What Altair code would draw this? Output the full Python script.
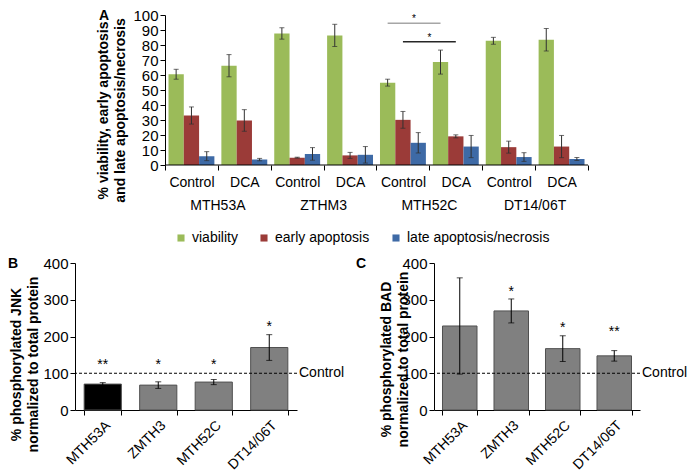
import altair as alt
import pandas as pd

FONT = "Liberation Sans"

# ---------------- Panel A data ----------------
cell_lines_a = ["MTH53A", "ZTHM3", "MTH52C", "DT14/06T"]
treatments = ["Control", "DCA"]
series_names = ["viability", "early apoptosis", "late apoptosis/necrosis"]
series_colors = ["#9BBB59", "#9B3B38", "#3E6AA6"]

# order: MTH53A Control, MTH53A DCA, ZTHM3 Control, ZTHM3 DCA, MTH52C Control, MTH52C DCA, DT14/06T Control, DT14/06T DCA
viability = [60.5, 66.2, 87.7, 86.4, 54.9, 68.6, 82.8, 83.5]
viability_err = [3.3, 7.4, 3.8, 7.4, 2.3, 8.0, 2.3, 7.5]
early = [33.0, 29.7, 4.9, 6.4, 30.1, 19.1, 11.9, 12.3]
early_err = [5.7, 7.2, 0.3, 2.0, 5.6, 1.0, 4.0, 7.4]
late = [5.9, 3.6, 7.4, 6.8, 14.8, 12.3, 5.3, 4.0]
late_err = [3.0, 0.8, 4.2, 5.5, 6.8, 7.4, 2.9, 1.0]

# significance brackets
sig_series = [0, 1]
sig_from = [4, 4]
sig_to = [5, 5]
sig_level = [94.5, 82.2]
sig_star_level = [98.6, 86.3]
sig_colors = ["#A6A6A6", "#262626"]

# ---------------- Panel B / C data ----------------
cell_lines_bc = ["MTH53A", "ZMTH3", "MTH52C", "DT14/06T"]
jnk = [70.5, 67.7, 76.0, 170.0]
jnk_err = [4.0, 9.0, 7.0, 35.0]
jnk_stars = ["**", "*", "*", "*"]
jnk_star_y = [131, 131, 130, 233]
jnk_fill = ["#000000", "#808080", "#808080", "#808080"]

bad = [228.6, 269.6, 167.0, 147.3]
bad_err = [131.0, 32.6, 35.0, 14.3]
bad_stars = ["", "*", "*", "**"]
bad_star_y = [0, 328, 232, 221]
bad_fill = ["#808080", "#808080", "#808080", "#808080"]

control_level = 100
control_label = "Control"

# ---------------- Build panel A ----------------
n_groups = len(cell_lines_a) * len(treatments)
pad = 0.066
bw = (1 - 2 * pad) / 3
vals = [viability, early, late]
errs = [viability_err, early_err, late_err]
rows = []
for g in range(n_groups):
    for s in range(3):
        x0 = g + pad + s * bw
        rows.append({
            "series": series_names[s], "x0": x0, "x1": x0 + bw, "xc": x0 + bw / 2,
            "value": vals[s][g], "lo": vals[s][g] - errs[s][g], "hi": vals[s][g] + errs[s][g],
        })
dfA = pd.DataFrame(rows)

dfGroups = pd.DataFrame({"x": [2 * i + 1 for i in range(len(cell_lines_a))], "name": cell_lines_a})
dfBase = pd.DataFrame({"a": [0], "b": [n_groups], "y": [0]})

sig_rows = []
for k in range(len(sig_series)):
    xa = sig_from[k] + pad + sig_series[k] * bw + bw / 2
    xb = sig_to[k] + pad + sig_series[k] * bw + bw / 2
    sig_rows.append({"xa": xa, "xb": xb, "xm": (xa + xb) / 2, "y": sig_level[k],
                     "ys": sig_star_level[k], "c": sig_colors[k], "star": "*"})
dfSig = pd.DataFrame(sig_rows)

# panel A shares its left origin with panel B; its own y axis is shifted inward
WA_inner, SHIFT, HA = 423, 90, 150
group_px = WA_inner / n_groups
WA = WA_inner + SHIFT
xA = alt.Scale(domain=[-SHIFT / group_px, n_groups], nice=False, zero=False)
yA = alt.Scale(domain=[0, 100], nice=False)

label_expr = "datum.value >= 8 ? '' : (datum.value % 2 == 0 ? 'Control' : 'DCA')"
axXA = alt.Axis(values=list(range(n_groups + 1)), labelExpr=label_expr, title=None, domain=False,
                labelOffset=group_px / 2, labelFlush=False, labelOverlap=False,
                tickSize=5, labelPadding=5, labelFontSize=14, grid=False)
axYA = alt.Axis(values=list(range(0, 101, 10)), tickCount=11, tickSize=5, labelPadding=2,
                labelFontSize=15, grid=False, labelOverlap=False, offset=-SHIFT,
                title=["% viability, early apoptosis", "and late apoptosis/necrosis"],
                titleFontWeight="bold", titleFontSize=14, titleLineHeight=17,
                titlePadding=5, titleY=95)

barsA = alt.Chart(dfA).mark_rect().encode(
    x=alt.X("x0:Q", scale=xA, axis=axXA),
    x2="x1:Q",
    y=alt.Y("value:Q", scale=yA, axis=axYA),
    y2=alt.datum(0),
    color=alt.Color("series:N", scale=alt.Scale(domain=series_names, range=series_colors),
                    legend=alt.Legend(orient="none", legendX=99, legendY=216, direction="horizontal",
                                      padding=0, title=None, symbolType="square", symbolSize=50,
                                      symbolStrokeWidth=0, labelFontSize=14, labelOffset=4,
                                      columnPadding=19, labelFont=FONT, labelColor="black")),
)

baseA = alt.Chart(dfBase).mark_rule(color="black", strokeWidth=1).encode(
    x=alt.X("a:Q", scale=xA, axis=axXA), x2="b:Q", y=alt.Y("y:Q", scale=yA, axis=axYA))

errA = alt.Chart(dfA).mark_rule(color="#303030", strokeWidth=1).encode(
    x=alt.X("xc:Q", scale=xA, axis=axXA), y=alt.Y("lo:Q", scale=yA, axis=axYA), y2="hi:Q")
capA_hi = alt.Chart(dfA).mark_tick(orient="horizontal", size=5, thickness=1, color="#303030").encode(
    x=alt.X("xc:Q", scale=xA, axis=axXA), y=alt.Y("hi:Q", scale=yA, axis=axYA))
capA_lo = alt.Chart(dfA).mark_tick(orient="horizontal", size=5, thickness=1, color="#303030").encode(
    x=alt.X("xc:Q", scale=xA, axis=axXA), y=alt.Y("lo:Q", scale=yA, axis=axYA))

groupsA = alt.Chart(dfGroups).mark_text(fontSize=14, baseline="middle", fill="black").encode(
    x=alt.X("x:Q", scale=xA, axis=axXA), y=alt.value(HA + 41), text="name:N")

sigA = alt.Chart(dfSig).mark_rule(strokeWidth=1.4).encode(
    x=alt.X("xa:Q", scale=xA, axis=axXA), x2="xb:Q", y=alt.Y("y:Q", scale=yA, axis=axYA),
    stroke=alt.Stroke("c:N", scale=None, legend=None))
starsA = alt.Chart(dfSig).mark_text(fontSize=10, baseline="middle", dy=2, fill="black").encode(
    x=alt.X("xm:Q", scale=xA, axis=axXA), y=alt.Y("ys:Q", scale=yA, axis=axYA), text="star:N")

letterA = alt.Chart(pd.DataFrame({"t": ["A"]})).mark_text(
    fontSize=14, fontWeight="bold", align="left", baseline="top", fill="black").encode(
    x=alt.value(SHIFT - 66), y=alt.value(-6), text="t:N")

panelA = alt.layer(barsA, baseA, errA, capA_hi, capA_lo, groupsA, sigA, starsA, letterA).properties(
    width=WA, height=HA)


# ---------------- Panels B, C ----------------
def make_panel(values, errors, stars, star_y, fills, title_lines, letter, width, height,
               title_pad, title_y, letter_x):
    df = pd.DataFrame({
        "cell": cell_lines_bc, "value": values,
        "lo": [v - e for v, e in zip(values, errors)],
        "hi": [v + e for v, e in zip(values, errors)],
        "star": stars, "star_y": star_y, "fill": fills,
    })
    xs = alt.Scale(domain=cell_lines_bc, paddingInner=0.33, paddingOuter=0.165)
    ys = alt.Scale(domain=[0, 400], nice=False)
    ax_x = alt.Axis(labelAngle=-45, tickBand="extent", tickSize=5, labelPadding=3, title=None,
                    labelFontSize=14, grid=False)
    ax_y = alt.Axis(values=[0, 100, 200, 300, 400], tickCount=5, tickSize=5, labelPadding=2,
                    labelFontSize=15, grid=False, labelOverlap=False, title=title_lines,
                    titleFontWeight="bold", titleFontSize=14, titleLineHeight=17,
                    titlePadding=title_pad, titleY=title_y)
    X = alt.X("cell:N", scale=xs, sort=cell_lines_bc, axis=ax_x)
    bars = alt.Chart(df).mark_bar(stroke="#505050", strokeWidth=1).encode(
        x=X, y=alt.Y("value:Q", scale=ys, axis=ax_y),
        fill=alt.Fill("fill:N", scale=None, legend=None),
    )
    err = alt.Chart(df).mark_rule(color="black", strokeWidth=1).encode(
        x=X, y=alt.Y("lo:Q", scale=ys, axis=ax_y), y2="hi:Q")
    cap_hi = alt.Chart(df).mark_tick(orient="horizontal", size=6, thickness=1, color="black").encode(
        x=X, y=alt.Y("hi:Q", scale=ys, axis=ax_y))
    cap_lo = alt.Chart(df).mark_tick(orient="horizontal", size=6, thickness=1, color="black").encode(
        x=X, y=alt.Y("lo:Q", scale=ys, axis=ax_y))
    st = alt.Chart(df).transform_filter("datum.star != ''").mark_text(
        fontSize=14, baseline="middle", dy=3, fill="black").encode(
        x=X, y=alt.Y("star_y:Q", scale=ys, axis=ax_y), text="star:N")
    ref = alt.Chart(pd.DataFrame({"y": [control_level], "t": [control_label]}))
    line = ref.mark_rule(color="black", strokeDash=[3, 2], strokeWidth=1).encode(
        y=alt.Y("y:Q", scale=ys, axis=ax_y))
    lab = ref.mark_text(align="left", baseline="middle", fontSize=14, fill="black").encode(
        x=alt.value(width + 2), y=alt.Y("y:Q", scale=ys, axis=ax_y), text="t:N")
    let = alt.Chart(pd.DataFrame({"t": [letter]})).mark_text(
        fontSize=14, fontWeight="bold", align="left", baseline="top", fill="black").encode(
        x=alt.value(letter_x), y=alt.value(-6), text="t:N")
    return alt.layer(bars, err, cap_hi, cap_lo, st, line, lab, let).properties(width=width, height=height)


panelB = make_panel(jnk, jnk_err, jnk_stars, jnk_star_y, jnk_fill,
                    ["% phosphorylated JNK", "normalized to total protein"], "B",
                    222, 147, 2, 101, -67)
panelC = make_panel(bad, bad_err, bad_stars, bad_star_y, bad_fill,
                    ["% phosphorylated BAD", "normalized to total protein"], "C",
                    206, 147, -9, 96, -78)

bottom_row = alt.hconcat(panelB, panelC, spacing=11).resolve_legend(color="independent").resolve_scale(
    color="independent")

chart = alt.vconcat(panelA, bottom_row, spacing=11).properties(
    padding=0).resolve_legend(color="independent").resolve_scale(color="independent").configure_axis(
    labelFont=FONT, titleFont=FONT, labelColor="black", titleColor="black",
    domainColor="black", tickColor="black", domainWidth=1, tickWidth=1,
).configure_axisY(labelOverlap=False).configure_text(font=FONT).configure_legend(
    labelFont=FONT).configure_view(strokeWidth=0)

chart.save("out.html", embed_options={"renderer": "svg", "actions": False})
